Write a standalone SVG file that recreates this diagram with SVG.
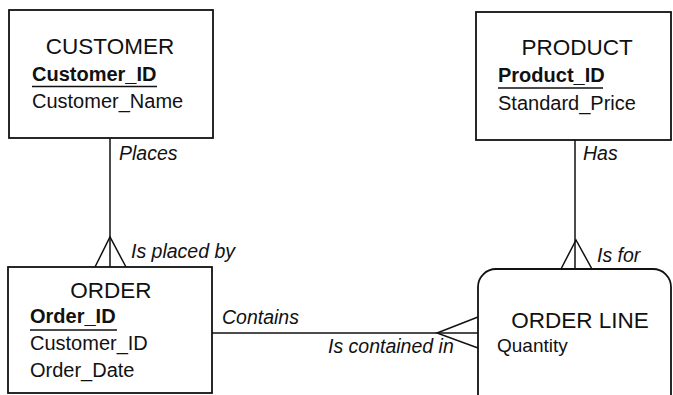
<svg xmlns="http://www.w3.org/2000/svg" width="673" height="395" viewBox="0 0 673 395">
<style>
.box{fill:#fff;stroke:#111;stroke-width:1.8}
.ln{fill:none;stroke:#111;stroke-width:1.5}
.t{font-family:"Liberation Sans",Arial,sans-serif;font-size:22.5px;fill:#111;text-anchor:middle}
.k{font-family:"Liberation Sans",Arial,sans-serif;font-size:20px;font-weight:bold;fill:#111}
.a{font-family:"Liberation Sans",Arial,sans-serif;font-size:20px;fill:#111}
.l{font-family:"Liberation Sans",Arial,sans-serif;font-size:19.5px;font-style:italic;fill:#111}
.u{stroke:#111;stroke-width:1.5}
</style>
<rect width="673" height="395" fill="#fff"/>
<g id="connectors">
<line class="ln" x1="110" y1="138" x2="110" y2="267"/>
<polyline class="ln" points="95,267 110,237 126,267"/>
<line class="ln" x1="575" y1="140" x2="575" y2="269"/>
<polyline class="ln" points="561,269 576,240 592,269"/>
<line class="ln" x1="212" y1="333" x2="478" y2="333"/>
<polyline class="ln" points="478,317 437,333 478,348"/>
<text class="l" x="119" y="160">Places</text>
<text class="l" x="131" y="258">Is placed by</text>
<text class="l" x="583" y="160">Has</text>
<text class="l" x="597" y="262">Is for</text>
<text class="l" x="222" y="324">Contains</text>
<text class="l" x="328" y="353">Is contained in</text>
</g>
<g id="customer">
<rect class="box" x="9" y="10" width="204" height="128"/>
<text class="t" x="110" y="54">CUSTOMER</text>
<text class="k" x="32" y="81">Customer_ID</text>
<line class="u" x1="32" y1="86.5" x2="157" y2="86.5"/>
<text class="a" x="32" y="108">Customer_Name</text>
</g>
<g id="product">
<rect class="box" x="476" y="12" width="195" height="128"/>
<text class="t" x="577" y="55">PRODUCT</text>
<text class="k" x="498" y="82">Product_ID</text>
<line class="u" x1="498" y1="88" x2="603" y2="88"/>
<text class="a" x="498" y="110">Standard_Price</text>
</g>
<g id="order">
<rect class="box" x="8" y="267" width="204" height="126"/>
<text class="t" x="111" y="298">ORDER</text>
<text class="k" x="30" y="323">Order_ID</text>
<line class="u" x1="30" y1="330" x2="117" y2="330"/>
<text class="a" x="30" y="350">Customer_ID</text>
<text class="a" x="30" y="377">Order_Date</text>
</g>
<g id="orderline">
<rect class="box" x="478" y="269" width="193" height="160" rx="18" ry="18"/>
<text class="t" x="580" y="328">ORDER LINE</text>
<text class="a" x="497" y="352" style="font-size:19px">Quantity</text>
</g>
</svg>
